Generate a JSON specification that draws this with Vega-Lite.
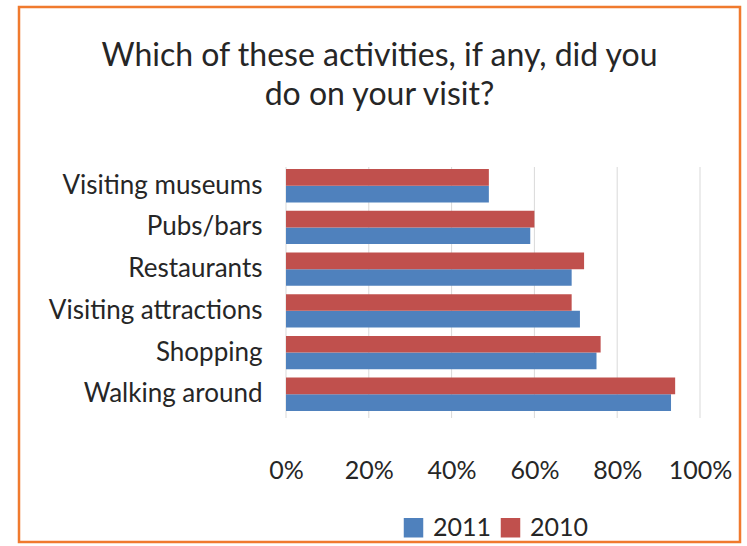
{
  "$schema": "https://vega.github.io/schema/vega-lite/v6.json",
  "width": 721,
  "height": 535,
  "autosize": {"type": "none"},
  "padding": {"left": 19, "top": 7, "right": 7, "bottom": 4},
  "background": "white",
  "config": {
    "view": {"stroke": "#F07A2E", "strokeWidth": 2.5},
    "font": "Lato"
  },
  "title": {
    "text": ["Which of these activities, if any, did you", "do on your visit?"],
    "font": "Lato",
    "fontSize": 32,
    "fontWeight": "normal",
    "color": "#262626",
    "anchor": "middle",
    "lineHeight": 39,
    "offset": 0,
    "dy": 105
  },
  "datasets": {
    "survey": [
      {"activity": "Visiting museums", "year": "2011", "pct": 0.49},
      {"activity": "Visiting museums", "year": "2010", "pct": 0.49},
      {"activity": "Pubs/bars", "year": "2011", "pct": 0.59},
      {"activity": "Pubs/bars", "year": "2010", "pct": 0.60},
      {"activity": "Restaurants", "year": "2011", "pct": 0.69},
      {"activity": "Restaurants", "year": "2010", "pct": 0.72},
      {"activity": "Visiting attractions", "year": "2011", "pct": 0.71},
      {"activity": "Visiting attractions", "year": "2010", "pct": 0.69},
      {"activity": "Shopping", "year": "2011", "pct": 0.75},
      {"activity": "Shopping", "year": "2010", "pct": 0.76},
      {"activity": "Walking around", "year": "2011", "pct": 0.93},
      {"activity": "Walking around", "year": "2010", "pct": 0.94}
    ],
    "grid": [
      {"v": 0}, {"v": 0.2}, {"v": 0.4}, {"v": 0.6}, {"v": 0.8}, {"v": 1}
    ]
  },
  "layer": [
    {
      "data": {"name": "grid"},
      "mark": {"type": "rule", "color": "#D9D9D9", "strokeWidth": 1},
      "encoding": {
        "x": {
          "field": "v",
          "type": "quantitative",
          "scale": {"domain": [0, 1], "range": [267, 681]},
          "axis": {
            "values": [0, 0.2, 0.4, 0.6, 0.8, 1],
            "format": ".0%",
            "grid": false,
            "domain": false,
            "ticks": false,
            "tickSize": 0,
            "labelFlush": false,
            "labelOverlap": false,
            "labelPadding": 40,
            "offset": -124,
            "labelFontSize": 25,
            "labelColor": "#262626",
            "labelFont": "Lato",
            "title": null
          }
        },
        "y": {
          "datum": 0,
          "type": "quantitative",
          "scale": {"domain": [0, 1], "range": [160, 411]},
          "axis": null
        },
        "y2": {"datum": 1}
      }
    },
    {
      "data": {"name": "survey"},
      "mark": {"type": "bar"},
      "encoding": {
        "y": {
          "field": "activity",
          "type": "nominal",
          "sort": null,
          "scale": {"range": [162, 404], "paddingInner": 0.2, "paddingOuter": 0},
          "axis": {
            "title": null,
            "domain": false,
            "ticks": false,
            "tickSize": 0,
            "grid": false,
            "offset": -267,
            "labelPadding": 24,
            "labelFontSize": 26,
            "labelFont": "Lato",
            "labelColor": "#262626",
            "labelLimit": 400
          }
        },
        "yOffset": {"field": "year", "sort": ["2010", "2011"]},
        "x": {
          "field": "pct",
          "type": "quantitative",
          "scale": {"domain": [0, 1], "range": [267, 681]},
          "axis": {
            "values": [0, 0.2, 0.4, 0.6, 0.8, 1],
            "format": ".0%",
            "grid": false,
            "domain": false,
            "ticks": false,
            "tickSize": 0,
            "labelFlush": false,
            "labelOverlap": false,
            "labelPadding": 40,
            "offset": -124,
            "labelFontSize": 25,
            "labelColor": "#262626",
            "labelFont": "Lato",
            "title": null
          }
        },
        "color": {
          "field": "year",
          "type": "nominal",
          "scale": {"domain": ["2011", "2010"], "range": ["#4F81BD", "#C0504D"]},
          "legend": {
            "orient": "none",
            "legendX": 382,
            "legendY": 508,
            "direction": "horizontal",
            "title": null,
            "symbolType": "square",
            "symbolSize": 380,
            "symbolStrokeWidth": 0,
            "labelFontSize": 25,
            "labelFont": "Lato",
            "labelColor": "#262626",
            "labelOffset": 7,
            "columnPadding": 6
          }
        }
      }
    }
  ],
  "resolve": {"scale": {"y": "independent"}, "axis": {"y": "independent"}}
}
